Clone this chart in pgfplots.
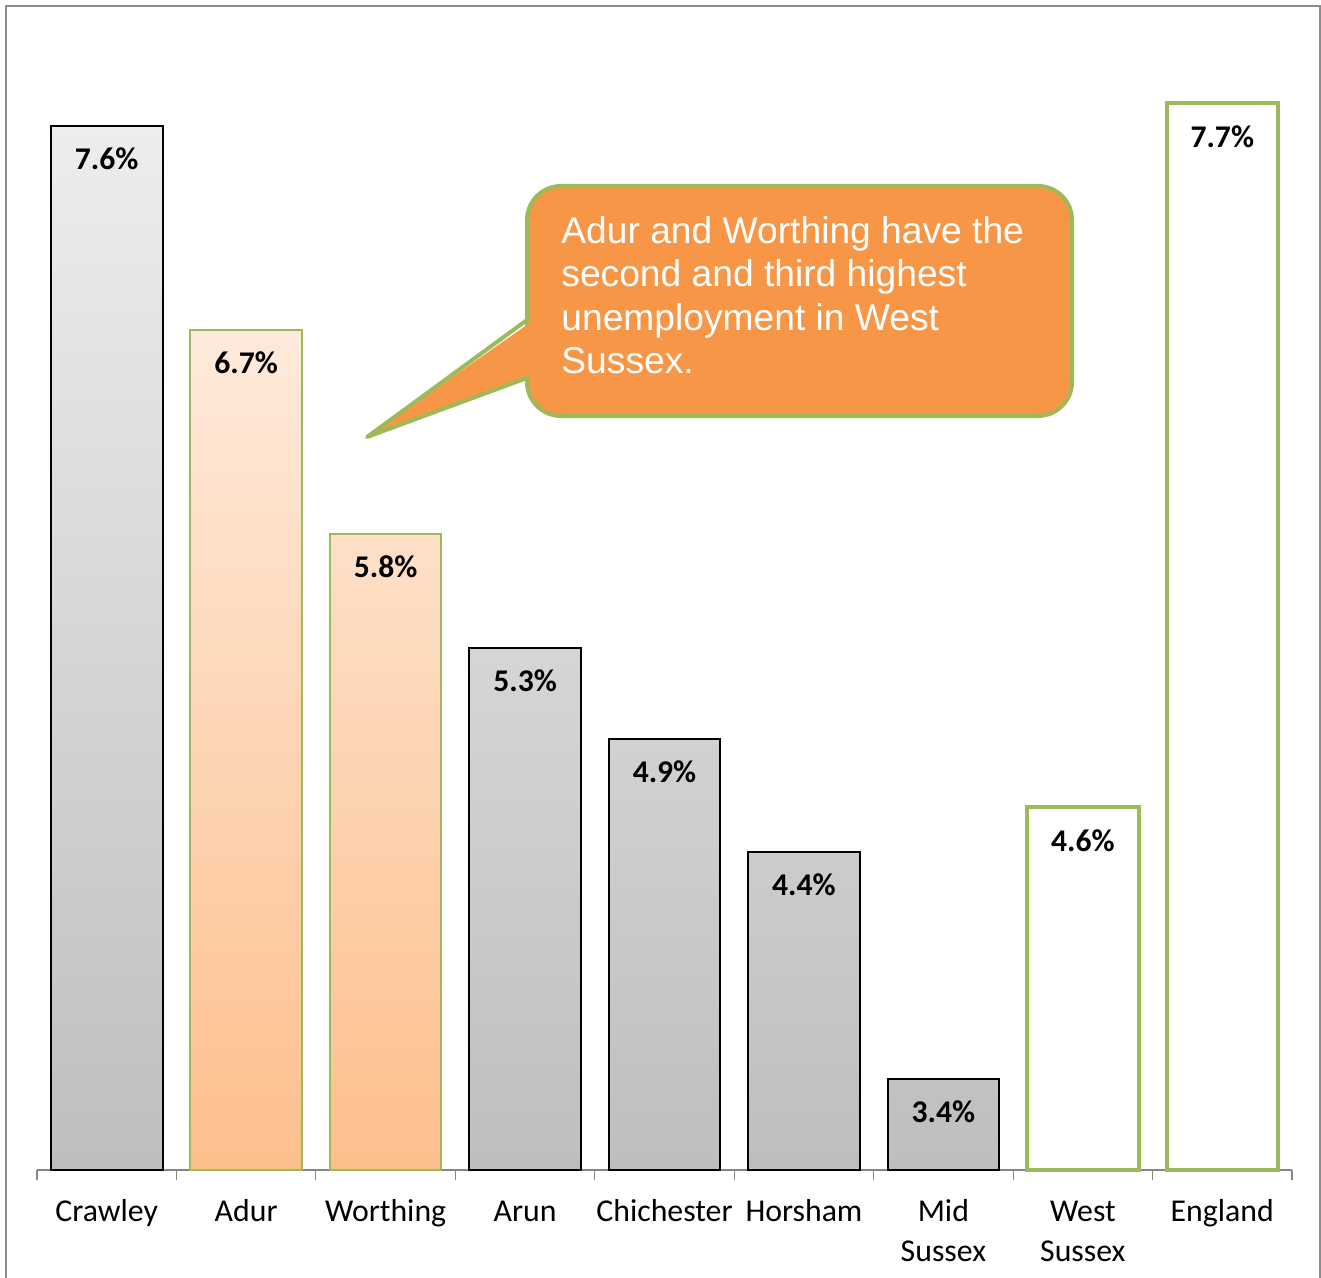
\documentclass[border=0pt]{standalone}
\usepackage{pgfplots}
\pgfplotsset{compat=1.18}
\usepackage{pgfplotstable}
\usepackage{fontspec}
\setmainfont{Carlito}
\newfontfamily\arialfont{Liberation Sans}
\definecolor{grn}{HTML}{9BBB59}
\definecolor{org}{HTML}{F79646}
\definecolor{gtop}{HTML}{EDEDED}
\definecolor{gbot}{HTML}{BEBEBE}
\definecolor{otop}{HTML}{FEEADB}
\definecolor{obot}{HTML}{FDBF8C}
\definecolor{axgray}{HTML}{868686}
\definecolor{frame}{HTML}{8C8C8C}

\pgfplotstableread{
x v
0 7.6
3 5.3
4 4.9
5 4.4
6 3.4
}\graydata
\pgfplotstableread{
x v
1 6.7
2 5.8
}\orangedata
\pgfplotstableread{
x v
7 4.6
8 7.7
}\greendata

\begin{document}
\begin{tikzpicture}
\useasboundingbox (0pt,0pt) rectangle (660.5pt,-639pt);
\draw[color=frame, line width=1pt] (3pt,-3pt) rectangle (660pt,-650pt);
\begin{axis}[
  at={(18.5pt,-585pt)}, anchor=south west,
  scale only axis, width=627.5pt, height=567.5pt,
  xmin=-0.5, xmax=8.5, ymin=0, ymax=5,
  axis y line=none, axis x line*=bottom,
  x axis line style={color=axgray, line width=1pt},
  xtick={0,...,8},
  xticklabels={\strut Crawley, \strut Adur, \strut Worthing, \strut Arun, \strut Chichester, \strut Horsham, {\strut Mid\\Sussex}, {\strut West\\Sussex}, \strut England},
  major tick length=0pt,
  minor xtick={-0.5,0.5,...,8.5},
  minor tick length=5pt,
  tick align=outside,
  minor tick style={color=axgray, line width=0.6pt},
  xticklabel style={font=\fontsize{15.9}{20}\selectfont, align=center, anchor=north, yshift=-8pt},
  ybar, bar width=0.8,
  clip=false,
  point meta=explicit,
  nodes near coords={\pgfmathprintnumber[fixed,fixed zerofill,precision=1,assume math mode=true]{\pgfplotspointmeta}\%},
  nodes near coords align={below},
  every node near coord/.append style={yshift=-7pt, font=\fontsize{15.8}{18}\selectfont\bfseries, text=black},
]
\addplot[bar shift=0pt, draw=black, line width=1pt, top color=gtop, bottom color=gbot]
  table[x=x, y expr=\thisrow{v}-3, meta=v] {\graydata};
\addplot[bar shift=0pt, draw=grn, line width=1pt, top color=otop, bottom color=obot]
  table[x=x, y expr=\thisrow{v}-3, meta=v] {\orangedata};
\addplot[bar shift=0pt, draw=grn, line width=2pt, fill=white]
  table[x=x, y expr=\thisrow{v}-3, meta=v] {\greendata};
\end{axis}
\begin{scope}[x=0.5pt, y=-0.5pt]
\draw[grn, line width=2pt, fill=org, rounded corners=17pt] (527,186) rectangle (1072,416);
\fill[org] (367,437) -- (531,376) -- (531,322) -- cycle;
\draw[grn, line width=2pt, line join=round, line cap=round] (527,320) -- (367,437) -- (527,378);
\begin{scope}[every node/.style={anchor=base west, inner sep=0pt, text=white, font=\arialfont\fontsize{18.6}{21.5}\selectfont}]
\node at (561,244) {Adur and Worthing have the};
\node at (561,287) {second and third highest};
\node at (561,330) {unemployment in West};
\node at (561,373) {Sussex.};
\end{scope}
\end{scope}
\end{tikzpicture}
\end{document}
